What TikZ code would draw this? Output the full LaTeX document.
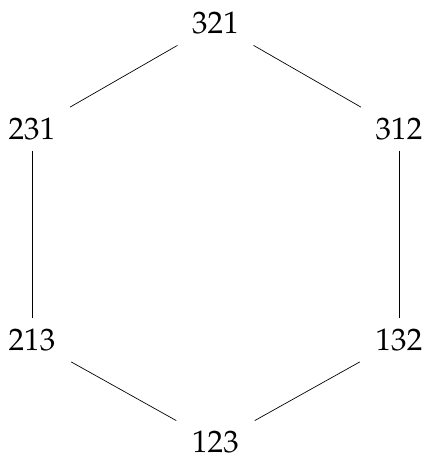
\documentclass[tikz,border=0pt]{standalone}
\usepackage[T1]{fontenc}
\usepackage{mathpazo}
\usetikzlibrary{positioning}

\begin{document}
\begin{tikzpicture}[
    x=0.58pt, y=-0.58pt,
    perm/.style={inner sep=0pt, minimum width=48pt, minimum height=25pt, font=\fontsize{18}{20}\selectfont},
    edge/.style={draw, thin}
]
\useasboundingbox (0,0) rectangle (427,458);

% Permutations
\node[perm] (p321) at (215.5, 23.5) {321};
\node[perm] (p231) at (32, 129) {231};
\node[perm] (p312) at (399, 129) {312};
\node[perm] (p213) at (32, 340) {213};
\node[perm] (p132) at (399, 340) {132};
\node[perm] (p123) at (215.5, 442.5) {123};

% Edges
\draw[edge] (p321) -- (p231);
\draw[edge] (p321) -- (p312);
\draw[edge] (p231) -- (p213);
\draw[edge] (p312) -- (p132);
\draw[edge] (p213) -- (p123);
\draw[edge] (p132) -- (p123);

\end{tikzpicture}
\end{document}
